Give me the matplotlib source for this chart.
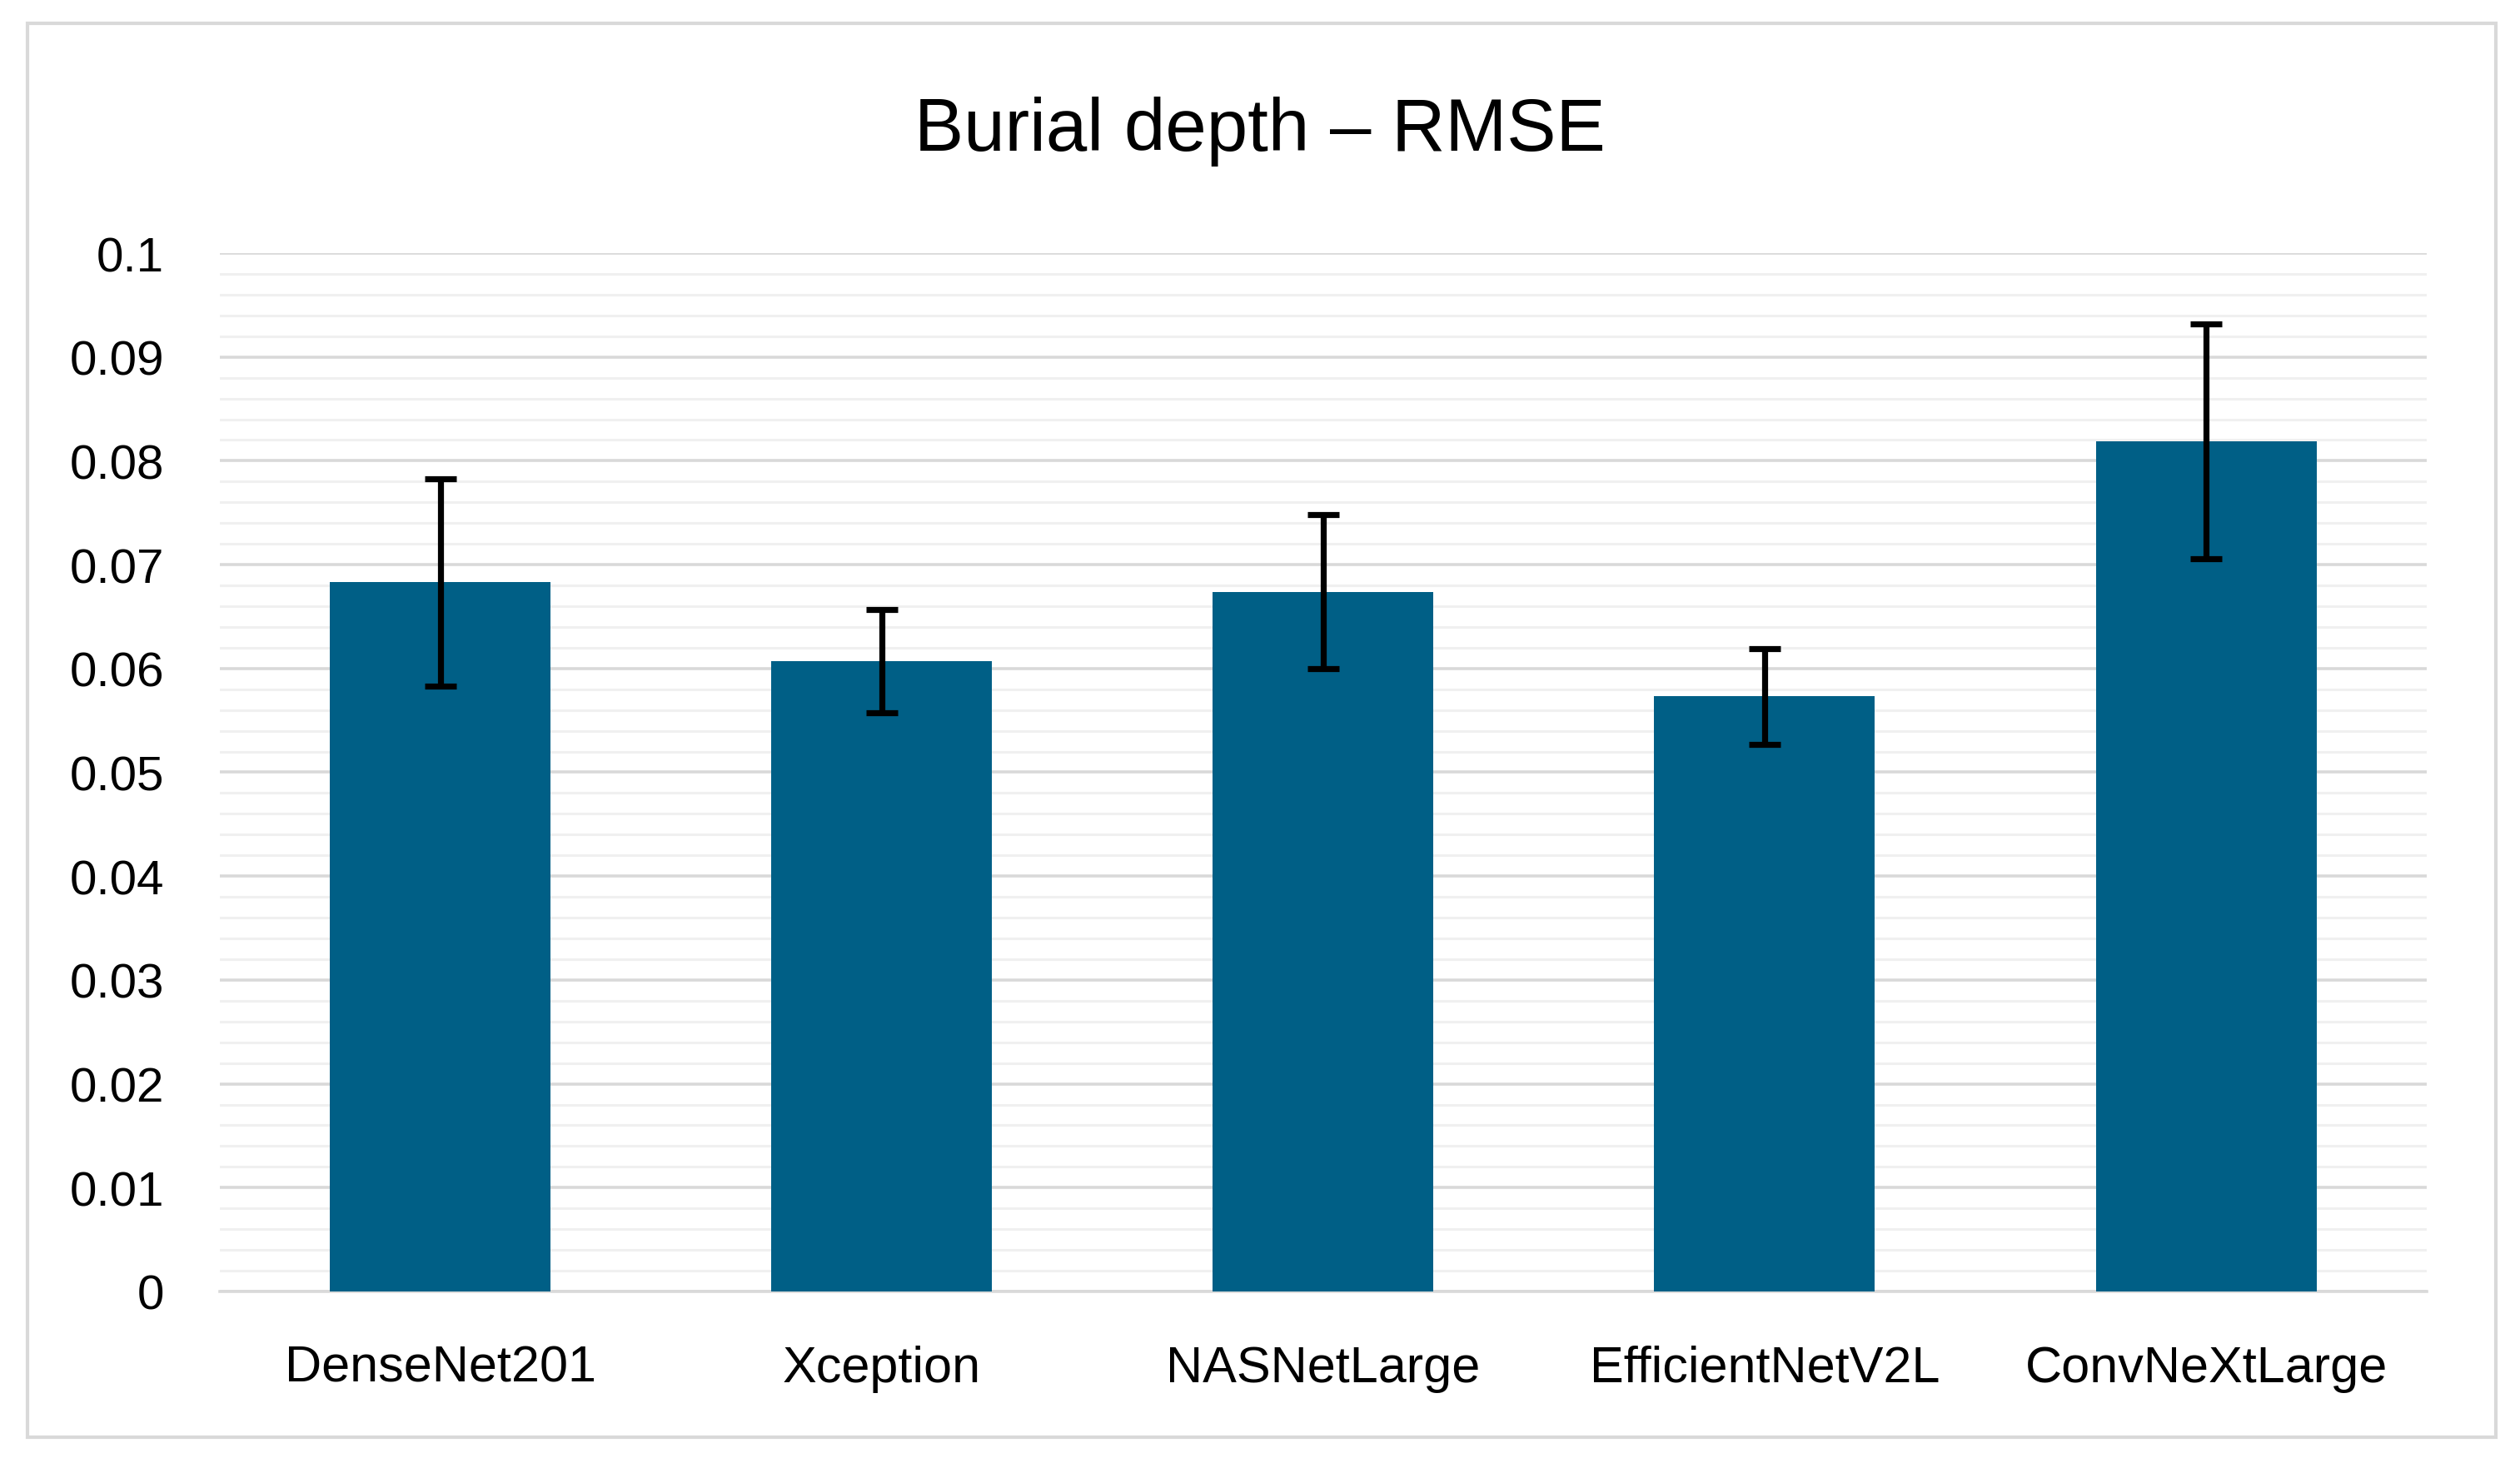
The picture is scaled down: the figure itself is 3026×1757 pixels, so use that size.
import numpy as np
import matplotlib
matplotlib.use("Agg")
import matplotlib.pyplot as plt
from matplotlib.patches import Rectangle
from matplotlib.ticker import MultipleLocator

models = ["DenseNet201", "Xception", "NASNetLarge", "EfficientNetV2L", "ConvNeXtLarge"]
rmse = [0.0683, 0.0607, 0.0674, 0.0573, 0.0819]
rmse_err = [0.0100, 0.0050, 0.0074, 0.0046, 0.0113]

BAR_COLOR = "#005F86"
plt.rcParams["font.family"] = ["Liberation Sans", "DejaVu Sans"]

fig = plt.figure(figsize=(15.13, 8.79), dpi=200)
fig.patches.append(
    Rectangle((33 / 3026, 1 - 1727 / 1758), (2997 - 33) / 3026, (1727 - 29) / 1758,
              transform=fig.transFigure, fill=False, edgecolor="#D9D9D9", linewidth=1.5)
)
ax = fig.add_axes([0.0872, 0.1172, 0.8758, 0.7093])

x = np.arange(len(models))
ax.bar(x, rmse, width=0.5, color=BAR_COLOR, zorder=3,
       yerr=rmse_err, error_kw=dict(ecolor="black", elinewidth=2.6, capsize=7, capthick=2.6))

ax.set_xlim(-0.5, len(models) - 0.5)
ax.set_ylim(0, 0.1)
ax.yaxis.set_major_locator(MultipleLocator(0.01))
ax.yaxis.set_minor_locator(MultipleLocator(0.002))
ax.set_yticks(np.arange(0, 0.1001, 0.01))
ax.set_yticklabels(["0"] + [f"{v:g}" for v in np.round(np.arange(0.01, 0.1001, 0.01), 2)])
ax.set_xticks(x)
ax.set_xticklabels(models)

ax.grid(axis="y", which="major", color="#D9D9D9", linewidth=1.3, zorder=0)
ax.grid(axis="y", which="minor", color="#F0F0F0", linewidth=1.1, zorder=0)
for side in ["top", "right", "left"]:
    ax.spines[side].set_visible(False)
ax.spines["bottom"].set_color("#D9D9D9")
ax.spines["bottom"].set_linewidth(1.3)
ax.tick_params(axis="both", which="both", length=0, labelsize=21, colors="black")
ax.tick_params(axis="y", pad=24)
ax.tick_params(axis="x", pad=23)
for lbl in ax.get_xticklabels():
    lbl.set_fontsize(22)

fig.text(0.5, 0.91, "Burial depth \u2013 RMSE", ha="center", va="center", fontsize=32)

fig.savefig("out.png", dpi=200, facecolor="white")
